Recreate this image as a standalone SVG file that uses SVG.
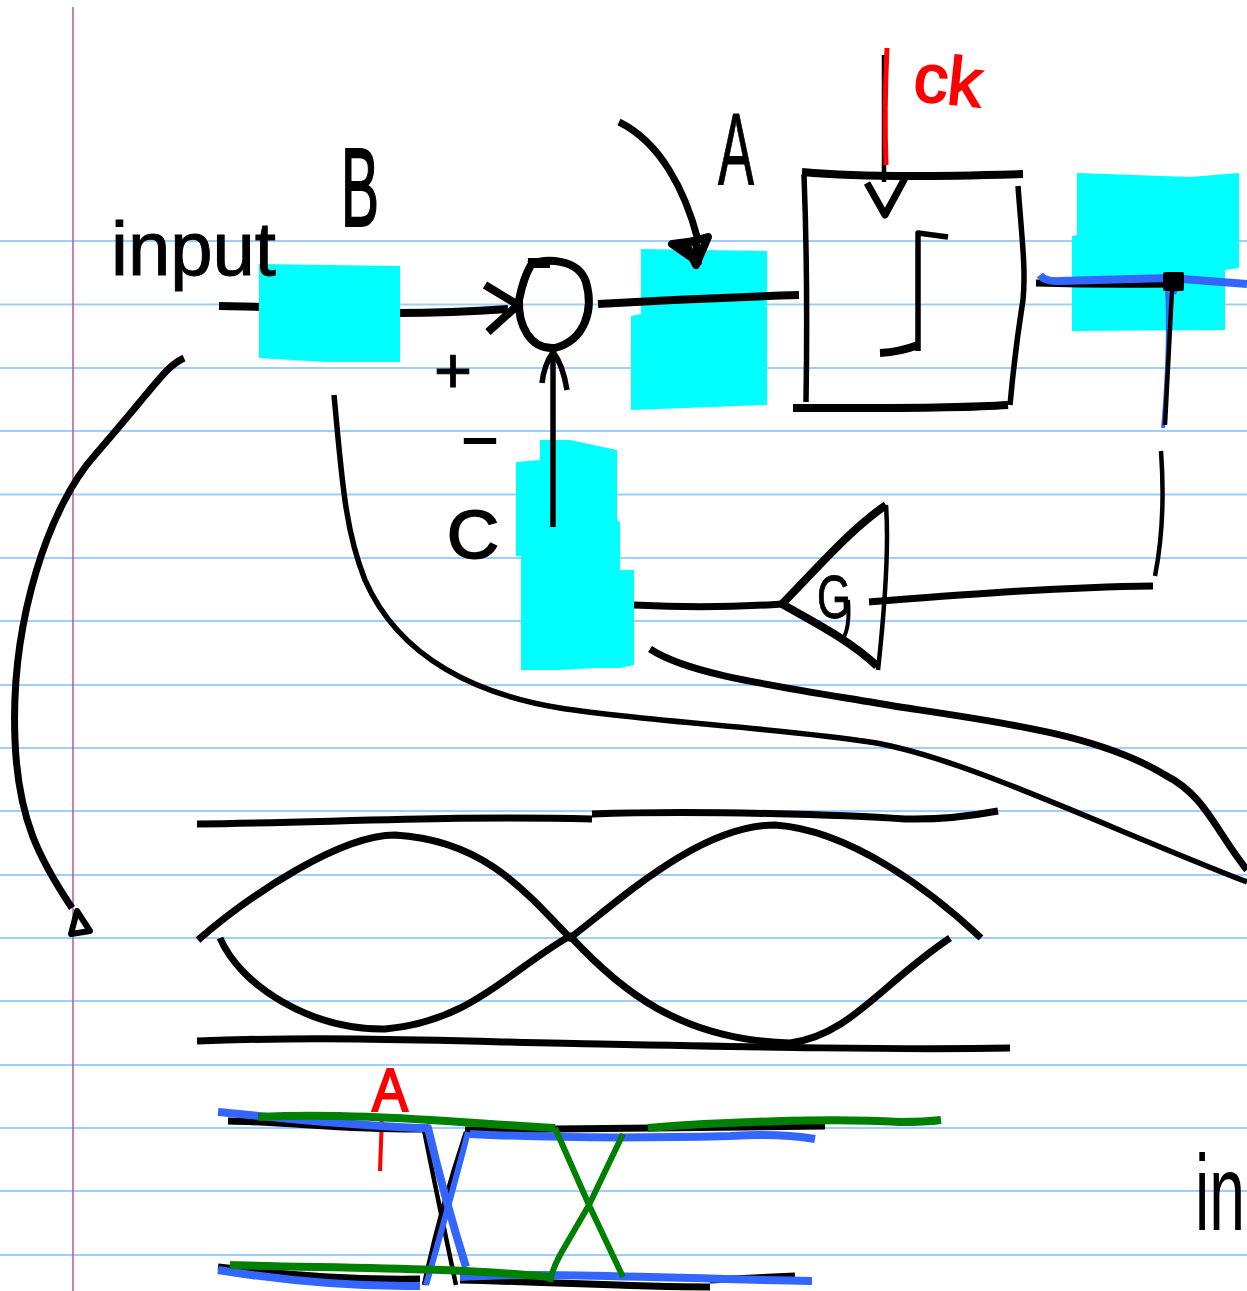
<svg xmlns="http://www.w3.org/2000/svg" width="1247" height="1291" viewBox="0 0 1247 1291">
<style>
.rule{stroke:#9fcdff;stroke-width:2;fill:none}
.ink{fill:none;stroke:#000;stroke-linecap:butt;stroke-linejoin:round}
.w7{stroke-width:8}.w6{stroke-width:7}.w5{stroke-width:5.500}.w4{stroke-width:4.500}.w3{stroke-width:4}
.blue{fill:none;stroke:#3366ff;stroke-linejoin:round}
.green{fill:none;stroke:#008000;stroke-linejoin:round}
.red{fill:none;stroke:#f00}
.cy{fill:#0ff}
.t{font-family:"Liberation Sans",Arial,sans-serif;fill:#000;stroke:#000}
.r{fill:#f00;stroke:#f00}
</style>
<rect width="1247" height="1291" fill="#fff"/>
<g id="paper">
<path class="rule" d="M0 241H1247M0 304.500H1247M0 368H1247M0 431H1247M0 494.500H1247M0 558H1247M0 621H1247M0 685H1247M0 748H1247M0 811H1247M0 875H1247M0 938H1247M0 1001H1247M0 1065H1247M0 1128H1247M0 1191H1247M0 1255H1247"/>
<path d="M73 7V1291" stroke="#b5589a" stroke-width="1.500" fill="none"/>
</g>
<g id="connectors">
<path class="ink w7" d="M219 306L262 307"/>
<path class="ink w7" d="M398 313Q450 313 508 309"/>
<path class="ink w7" d="M485 285L518 305L488 332"/>
<path class="ink w6" d="M619 122C660 142 685 190 698 240"/>
<path class="ink w5" d="M553 527L553 352"/>
<path class="ink w5" d="M542 383Q544 365 553 352Q563 365 567 390"/>
<path class="ink w4" d="M1161 451Q1166 520 1155 576"/>
<path class="ink w6" d="M1153 586C1060 587 960 595 869 602"/>
<path class="ink w6" d="M634 605Q710 609 782 604"/>
<path class="ink w6" d="M184 358C165 367 160 380 95 455C50 505 10 620 15 740C18 820 40 860 72 908"/>
<path class="ink" stroke-width="6" d="M71 934L77 911L90 931Z"/>
<path class="ink w5" d="M334 395C342 480 345 530 365 580C400 660 480 695 560 708C650 722 780 728 870 742C960 756 1100 825 1247 882"/>
<path class="ink w6" d="M650 649C690 675 770 685 900 707C1000 722 1100 735 1165 775C1205 795 1215 830 1247 870"/>
</g>
<g id="node-b"><path class="cy" d="M259 264L400 266V362L325 362L259 358Z"/></g>
<g id="node-sum">
<path class="ink w7" d="M529 265C545 258 578 258 586 282C594 310 585 340 555 348C530 350 518 325 519 300C522 285 525 275 531 265"/>
<rect x="528" y="258" width="22" height="10" fill="#000"/>
</g>
<g id="node-a">
<path class="cy" d="M641 249L767 251V405L631 410V316L641 314Z"/>
<path class="ink w7" d="M598 304Q700 298 799 295"/>
<path class="ink" stroke-width="8" d="M672 244L696 241L698 262Z"/>
<path class="ink w7" d="M682 244L708 237L696 265L686 244"/>
</g>
<g id="node-ff">
<path class="ink w7" d="M802 172C870 178 950 176 1023 174"/>
<path class="ink w5" d="M804 175Q808 280 806 402"/>
<path class="ink w5" d="M1018 186C1022 240 1026 270 1023 300Q1015 350 1010 405"/>
<path class="ink w7" d="M793 408C860 408 950 409 1008 405"/>
<path class="ink w6" d="M867 183L885 215L905 178"/>
<path class="ink w4" d="M884 55V182"/>
<path class="red" stroke-width="5" d="M887 48Q884 110 886 165"/>
<path class="ink w5" d="M918 351V233L948 237"/>
<path class="ink w7" d="M880 353Q900 352 918 345"/>
</g>
<g id="node-d">
<path class="cy" d="M1077 173L1190 177L1239 173V268L1225 270V330L1072 331V236L1077 235Z"/>
<path class="ink w6" d="M1036 283Q1100 285 1170 284"/>
<path class="blue" stroke-width="8" d="M1040 275Q1045 282 1060 281L1170 278L1247 284"/>
<path class="blue" stroke-width="4" d="M1167 285Q1170 350 1163 428"/>
<path class="blue" stroke-width="12" d="M1174 286L1179 290"/>
<path class="ink w4" d="M1172 290L1165 425"/>
<rect x="1163" y="272" width="21" height="19" rx="2" fill="#000"/>
</g>
<g id="node-c">
<path class="cy" d="M540 440H570L617 450V520L620 522V570L634 570V665L620 668H595L560 670H521V556H516V462L540 460Z"/>
<path class="ink w5" d="M553 527L553 440"/>
</g>
<g id="node-g"><path class="ink w7" d="M886 505C850 530 820 565 782 604C810 620 850 640 877 666"/><path class="ink w4" d="M886 505Q890 560 878 670"/><path class="ink w3" d="M848 600Q850 625 844 637"/></g>
<g id="eye">
<path class="ink w6" d="M197 824C320 823 450 815 592 819M592 814C700 810 850 815 905 819Q950 820 998 811"/>
<path class="ink w6" d="M198 940C250 895 340 835 395 835C480 840 520 885 570 938C620 900 700 825 775 825C850 830 930 890 981 938"/>
<path class="ink w6" d="M220 938C240 985 310 1030 385 1029C470 1022 510 970 570 936C620 990 680 1040 790 1043C850 1035 880 985 950 938"/>
<path class="ink w6" d="M197 1041C350 1035 500 1043 600 1044C750 1047 900 1050 1010 1048"/>
</g>
<g id="timing">
<path class="red" stroke-width="4" d="M380 1171L382 1115"/>
<path class="ink w6" d="M228 1121C290 1122 350 1130 425 1129M465 1130C600 1128 700 1128 825 1126"/>
<path class="ink w4" d="M424 1130Q440 1210 456 1285M466 1132Q440 1210 424 1285"/>
<path class="ink w6" d="M218 1267C300 1276 350 1280 420 1279M460 1280C550 1282 630 1287 710 1287M710 1280L795 1276"/>
<path class="blue" stroke-width="8" d="M218 1112C280 1118 340 1125 420 1128L428 1128Q445 1200 466 1267"/>
<path class="blue" stroke-width="6" d="M468 1132Q445 1220 426 1285"/>
<path class="blue" stroke-width="8" d="M470 1134C550 1138 650 1138 730 1136Q780 1133 815 1139"/>
<path class="blue" stroke-width="8" d="M218 1270C280 1280 350 1287 420 1286M460 1277C550 1272 650 1278 812 1281"/>
<path class="green" stroke-width="8" d="M258 1117C350 1112 450 1122 555 1128M648 1128C720 1122 830 1118 900 1122Q925 1122 941 1120"/>
<path class="green" stroke-width="6" d="M555 1128L589 1205L623 1277M623 1134L589 1205L560 1255Q552 1270 550 1282"/>
<path class="green" stroke-width="8" d="M230 1265C320 1268 450 1267 550 1277"/>
</g>
<g id="labels">
<text class="t" x="111" y="275" font-size="76" stroke-width="1" textLength="165" lengthAdjust="spacingAndGlyphs">input</text>
<text class="t" x="341" y="226" font-size="112" stroke-width="2" textLength="38" lengthAdjust="spacingAndGlyphs">B</text>
<text class="t" x="718" y="185" font-size="102" stroke-width="1" textLength="36" lengthAdjust="spacingAndGlyphs">A</text>
<text class="t r" x="912" y="100" font-size="68" stroke-width="2" textLength="68" lengthAdjust="spacingAndGlyphs" transform="rotate(6 912 100)">ck</text>
<text class="t" x="434" y="393" font-size="64" stroke-width="1" textLength="38" lengthAdjust="spacingAndGlyphs">+</text>
<text class="t" x="461" y="454" font-size="50" stroke-width="2" textLength="38" lengthAdjust="spacingAndGlyphs">-</text>
<text class="t" x="447" y="558" font-size="68" stroke-width="2" textLength="52" lengthAdjust="spacingAndGlyphs">C</text>
<text class="t" x="817" y="618" font-size="62" stroke-width="1" textLength="34" lengthAdjust="spacingAndGlyphs">G</text>
<text class="t r" x="372" y="1111" font-size="62" stroke-width="2" textLength="36" lengthAdjust="spacingAndGlyphs">A</text>
<text class="t" x="1195" y="1230" font-size="108" stroke-width="0" textLength="50" lengthAdjust="spacingAndGlyphs">in</text>
</g>
</svg>
